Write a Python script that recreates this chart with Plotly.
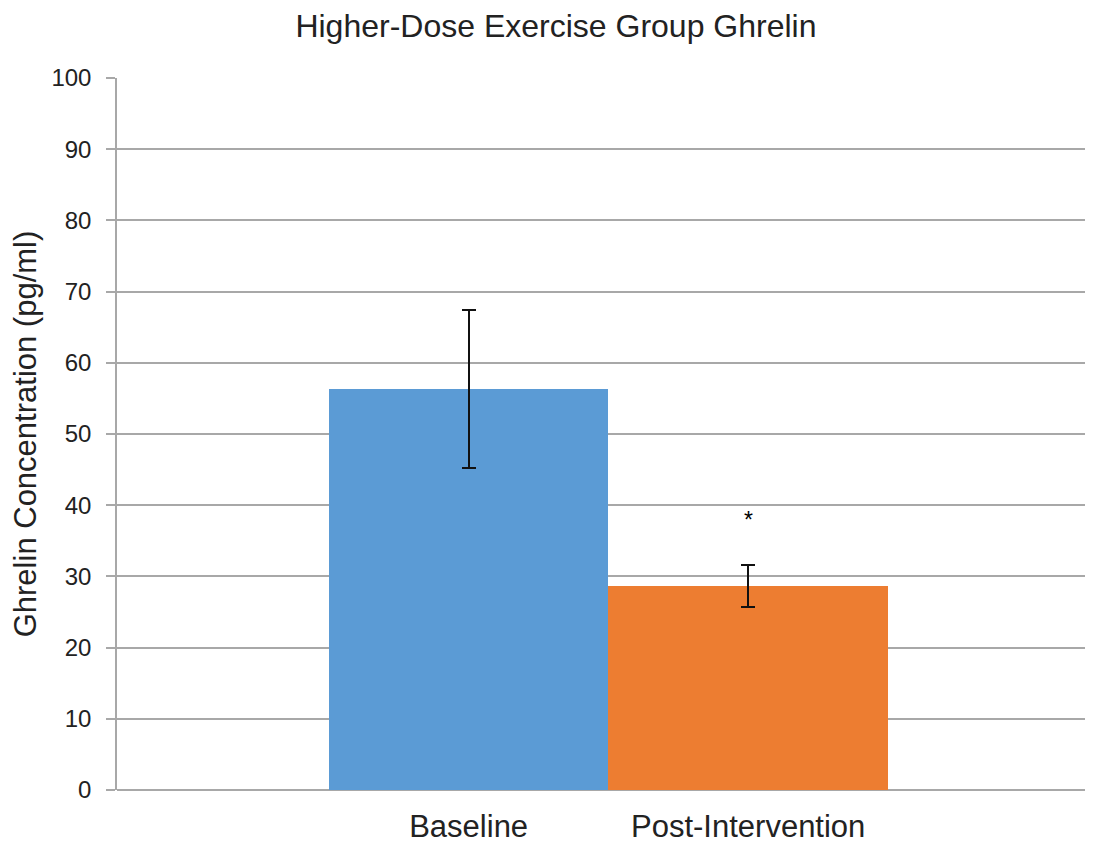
import plotly.graph_objects as go

categories = ["Baseline", "Post-Intervention"]
means = [56.3, 28.7]
errors = [11.05, 2.95]
significance = ["", "*"]

colors = ["#5B9BD5", "#ED7D31"]
FONT = "Liberation Sans, Arial, sans-serif"
GRID = "#A8A8A8"

fig = go.Figure()
fig.add_trace(go.Bar(
    x=categories,
    y=means,
    width=1,
    marker=dict(color=colors, line=dict(width=0)),
    error_y=dict(type="data", array=errors, visible=True,
                 color="#111111", thickness=2, width=7),
    showlegend=False,
))

for cat, m, e, s in zip(categories, means, errors, significance):
    if s:
        fig.add_annotation(x=cat, y=m + e + 6.3, text=s, showarrow=False,
                           xref="x", yref="y", yanchor="middle",
                           font=dict(family=FONT, size=23, color="#000000"))

# the page body adds an 8px margin, so the figure is 8px smaller
fig.update_layout(
    width=1085, height=840,
    paper_bgcolor="white", plot_bgcolor="white",
    margin=dict(l=109, r=1, t=70, b=58),
    bargap=0,
    title=dict(text="Higher-Dose Exercise Group Ghrelin",
               x=0.505, xanchor="center", y=1 - 18 / 840, yanchor="middle",
               yref="container",
               font=dict(family=FONT, size=32, color="#222222")),
    font=dict(family=FONT, color="#222222"),
)

fig.update_xaxes(
    type="category",
    range=[-1.258, 2.23],
    showgrid=False,
    showline=False,
    ticks="",
    tickfont=dict(family=FONT, size=31, color="#222222"),
    ticklabelstandoff=15,
)

fig.update_yaxes(
    range=[0, 100],
    dtick=10,
    tick0=0,
    showgrid=True, gridcolor=GRID, gridwidth=1.5,
    zeroline=True, zerolinecolor=GRID, zerolinewidth=1.5,
    showline=True, linecolor=GRID, linewidth=1.5,
    ticks="outside", ticklen=9, tickcolor=GRID, tickwidth=1.5,
    tickfont=dict(family=FONT, size=24, color="#222222"),
    ticklabelstandoff=10,
    title=dict(text="Ghrelin Concentration (pg/ml)",
               font=dict(family=FONT, size=31, color="#222222"),
               standoff=10),
)

fig.write_html("out.html")
